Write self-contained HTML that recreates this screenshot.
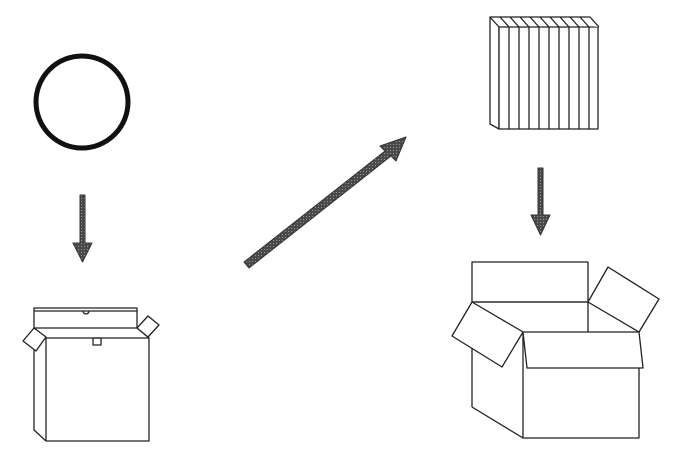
<!DOCTYPE html>
<html><head><style>html,body{margin:0;padding:0;background:#fff;}svg{display:block}</style></head>
<body>
<svg width="680" height="467" viewBox="0 0 680 467" xmlns="http://www.w3.org/2000/svg">
<defs>
<pattern id="hatch" width="3" height="3" patternUnits="userSpaceOnUse">
<rect width="3" height="3" fill="#4a4a4a"/><rect width="1" height="1" fill="#999"/>
</pattern>
</defs>
<g fill="none" stroke="#222" stroke-width="1.3" stroke-linejoin="round">
<circle cx="82" cy="102" r="46" stroke="#111" stroke-width="5"/>
<path d="M80,195 H85 V243 H92 L82.5,262 L73,243 H80 Z" fill="url(#hatch)" stroke="#333" stroke-width="1"/>
<path d="M538,168 H543 V215 H550 L540.5,235 L531,215 H538 Z" fill="url(#hatch)" stroke="#333" stroke-width="1"/>
<path d="M244,262 L385,151 L380,146 L406,137 L396,161 L391,156 L249,268 Z" fill="url(#hatch)" stroke="#333" stroke-width="1"/>
<rect x="34" y="308" width="103" height="20" fill="#fff"/>
<line x1="34" y1="311" x2="137" y2="311"/>
<path d="M83,311 A3,3 0 0 0 89,311" />
<path d="M34,328 V430 L46,441"/>
<rect x="46" y="338" width="103" height="103" fill="#fff"/>
<line x1="34" y1="328" x2="46" y2="338"/>
<line x1="137" y1="328" x2="149" y2="338"/>
<rect x="93" y="338" width="8" height="7"/>
<path d="M34,328 L46,337 L36,351 L23,341 Z" fill="#fff"/>
<path d="M137,328 L148,316 L159,325 L148,337 Z" fill="#fff"/>
<rect x="472" y="262" width="116" height="40" fill="#fff"/>
<line x1="472" y1="302" x2="472" y2="407"/>
<line x1="588" y1="302" x2="588" y2="332"/>
<path d="M472,407 L523,438"/>
<line x1="472" y1="302" x2="588" y2="302"/>
<path d="M588,302 L608,267 L659,299 L639,332 Z" fill="#fff"/>
<path d="M472,302 L523,332 L502,367 L452,336 Z" fill="#fff"/>
<path d="M523,332 L523,438 L639,438 L639,368"/>
<path d="M523,332 L527,368 L643,368 L639,332 Z" fill="#fff"/>
<g fill="#fff" stroke="#222" stroke-width="1.3">
<path d="M490,17 L499,27 V129 L490,124 Z"/>
<rect x="499" y="27" width="99" height="102"/>
<path d="M490,17 L590,17 L599,27"/>
</g>
<g stroke="#222" stroke-width="1.3">
<line x1="509" y1="27" x2="509" y2="129"/><line x1="500" y1="17" x2="509" y2="27"/>
<line x1="519" y1="27" x2="519" y2="129"/><line x1="510" y1="17" x2="519" y2="27"/>
<line x1="529" y1="27" x2="529" y2="129"/><line x1="520" y1="17" x2="529" y2="27"/>
<line x1="539" y1="27" x2="539" y2="129"/><line x1="530" y1="17" x2="539" y2="27"/>
<line x1="549" y1="27" x2="549" y2="129"/><line x1="540" y1="17" x2="549" y2="27"/>
<line x1="559" y1="27" x2="559" y2="129"/><line x1="550" y1="17" x2="559" y2="27"/>
<line x1="569" y1="27" x2="569" y2="129"/><line x1="560" y1="17" x2="569" y2="27"/>
<line x1="579" y1="27" x2="579" y2="129"/><line x1="570" y1="17" x2="579" y2="27"/>
<line x1="589" y1="27" x2="589" y2="129"/><line x1="580" y1="17" x2="589" y2="27"/>
</g>
</g>
</svg>
</body></html>
